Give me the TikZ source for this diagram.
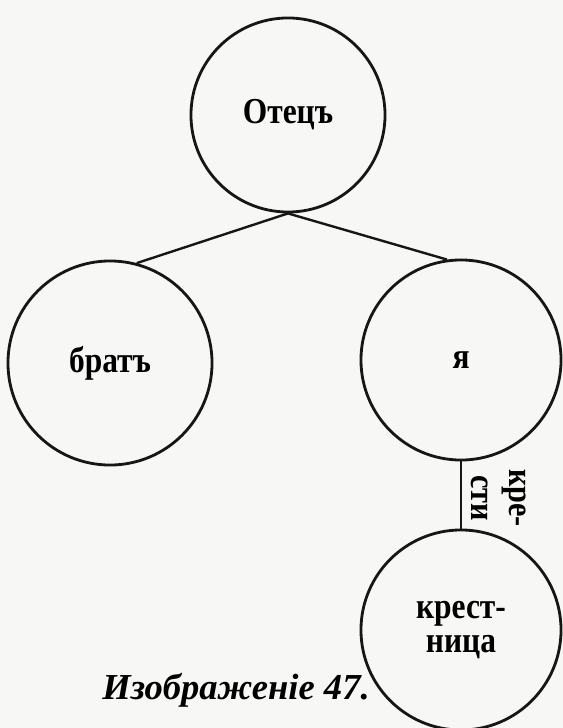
\documentclass[tikz,border=0pt]{standalone}
\usepackage{fontspec}
\setmainfont{Liberation Serif}
\newfontfamily\oldface[FakeStretch=0.86]{Liberation Serif}
\usetikzlibrary{positioning}
\definecolor{paper}{RGB}{247,247,245}
\definecolor{ink}{RGB}{22,22,22}
\tikzset{
    kinnode/.style={circle, draw=ink, line width=2pt, inner sep=0pt, align=center, font=\oldface\bfseries\fontsize{26}{24}\selectfont},
    kinline/.style={draw=ink, line width=1.7pt},
    sidenote/.style={font=\oldface\bfseries\fontsize{25}{27}\selectfont, align=center, rotate=-90},
    figcaption/.style={font=\bfseries\itshape\fontsize{26}{28}\selectfont}
}
\begin{document}
\begin{tikzpicture}[x=0.025cm,y=-0.025cm]
            \fill[paper] (0,0) rectangle (563,728);
            \useasboundingbox (0,0) rectangle (563,728);
            \node[kinnode, minimum size=4.85cm] (otec) at (288,115) {Отецъ};
            \node[kinnode, minimum size=5.1cm] (brat) at (110,363) {братъ};
            \node[kinnode, minimum size=5.0cm] (ya) at (461,360) {я};
            \node[kinnode, minimum size=5.0cm] (krest) at (461,630) {крест-\\ница};
            \draw[kinline] (otec.south) -- (brat.75);
            \draw[kinline] (otec.south) -- (ya.98);
            \draw[kinline] (ya.south) -- (krest.north);
            \node[sidenote] (kresti) at (499,498) {кре-\\сти};
            \node[figcaption] (fig) at (236,690) {Изображенiе 47.};
        \end{tikzpicture}
\end{document}
